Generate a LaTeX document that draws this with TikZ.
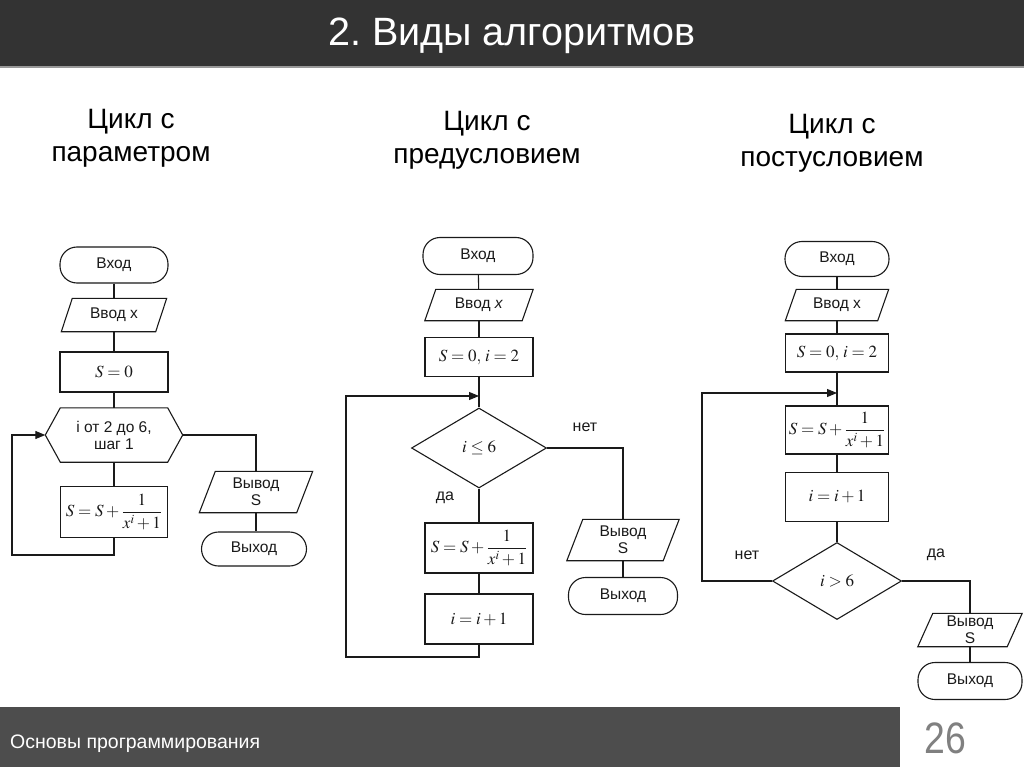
\documentclass[tikz,border=0pt]{standalone}
\usepackage{mathptmx}
\usepackage[no-math]{fontspec}
\setmainfont{Liberation Sans}
\newfontfamily\narrowfont[FakeStretch=0.85]{Liberation Sans}
\usetikzlibrary{shapes.geometric,arrows.meta}
\frenchspacing
\definecolor{hdr}{HTML}{333333}
\definecolor{ftr}{HTML}{4D4D4D}
\definecolor{ln}{HTML}{1A1A1A}
\definecolor{pg}{HTML}{808080}
\newcommand\iobox[2]{\draw[conn] ([xshift=#2]#1.north west) -- (#1.north east) -- ([xshift=-#2]#1.south east) -- (#1.south west) -- cycle;}
\tikzset{
  conn/.style={draw=ln, line width=1.1pt},
  arr/.style={conn, -{Triangle[length=10pt,width=8pt]}},
  txt/.style={inner sep=0pt, align=center, text=ln, font=\fontsize{15.5}{17}\selectfont},
  term/.style={txt, draw=ln, line width=1.1pt, rectangle, rounded corners=17pt},
  proc/.style={txt, draw=ln, line width=1.1pt, rectangle, font=\fontsize{17}{20}\selectfont},
  io/.style={txt},
  dec/.style={txt, draw=ln, line width=1.1pt, diamond, font=\fontsize{17}{20}\selectfont},
  head/.style={inner sep=0pt, align=center, text=black, font=\fontsize{28}{33}\selectfont},
  lbl/.style={inner sep=0pt, text=ln, font=\fontsize{16}{18}\selectfont},
}
\begin{document}
\begin{tikzpicture}[x=1pt,y=-1pt]
\useasboundingbox (0,0) rectangle (1024,767);
\fill[white] (0,0) rectangle (1024,767);
% header / footer
\fill[hdr] (0,0) rectangle (1024,67);
\draw[gray!80, line width=1.2pt] (0,67) -- (1024,67);
\node[inner sep=0pt, anchor=base, text=white, font=\fontsize{39.5}{42}\selectfont] (title) at (512,46) {2.~Виды алгоритмов};
\fill[ftr] (0,707) rectangle (900,767);
\node[inner sep=0pt, anchor=base west, text=white, font=\fontsize{19.5}{22}\selectfont] (foot) at (10,748) {Основы программирования};
\node[inner sep=0pt, text=pg, font=\narrowfont\fontsize{44}{46}\selectfont] (page) at (945,738) {26};
% headings
\node[head] (h1) at (131,138) {Цикл с\\параметром};
\node[head] (h2) at (487,140) {Цикл с\\предусловием};
\node[head] (h3) at (832,143) {Цикл с\\постусловием};

% ---------- left: loop with parameter
\node[term, minimum width=108, minimum height=36] (l1) at (114,265) {Вход};
\node[io, minimum width=105, minimum height=33] (l2) at (114,315) {Ввод x};
\iobox{l2}{11}
\node[proc, minimum width=108, minimum height=40] (l3) at (114,372) {$S=0$};
\node[txt, minimum width=137, minimum height=54] (l4) at (114,435) {i от 2 до 6,\\шаг 1};
\draw[conn] (l4.west) -- ([xshift=15]l4.north west) -- ([xshift=-15]l4.north east) -- (l4.east) -- ([xshift=-15]l4.south east) -- ([xshift=15]l4.south west) -- cycle;
\node[proc, minimum width=107, minimum height=51] (l5) at (114,512) {$\displaystyle S=S+\frac{1}{x^i+1}$};
\node[io, minimum width=113, minimum height=41] (l6) at (256,492) {Вывод\\S};
\iobox{l6}{16}
\node[term, minimum width=105, minimum height=34] (l7) at (254,549) {Выход};
\coordinate (lc1) at (114,555);
\coordinate (lc2) at (12,555);
\coordinate (lc3) at (12,435);
\coordinate (lc4) at (256,435);
\draw[conn] (l1) -- (l2);
\draw[conn] (l2) -- (l3);
\draw[conn] (l3) -- (l4);
\draw[conn] (l4) -- (l5);
\draw[arr] (l5.south) -- (lc1) -- (lc2) -- (lc3) -- (l4.west);
\draw[conn] (l4.east) -- (lc4) -- (l6.north);
\draw[conn] (l6.south) -- (l6.south |- l7.north);

% ---------- middle: pre-condition loop
\node[term, minimum width=110, minimum height=37] (m1) at (478,256) {Вход};
\node[io, minimum width=108, minimum height=31] (m2) at (479,305) {Ввод \textit{x}};
\iobox{m2}{11}
\node[proc, minimum width=108, minimum height=39] (m3) at (479,357) {$S=0,\,i=2$};
\coordinate (mj) at (479,396);
\node[dec, minimum width=135, minimum height=80] (m4) at (479,448) {$i\le 6$};
\node[proc, minimum width=108, minimum height=50] (m5) at (479,548) {$\displaystyle S=S+\frac{1}{x^i+1}$};
\node[proc, minimum width=108, minimum height=50] (m6) at (479,619) {$i=i+1$};
\node[io, minimum width=112, minimum height=41] (m7) at (623,540) {Вывод\\S};
\iobox{m7}{16}
\node[term, minimum width=109, minimum height=37] (m8) at (623,596) {Выход};
\node[lbl] (mno) at (585,427) {нет};
\node[lbl] (myes) at (445,498) {да};
\coordinate (mc1) at (479,657);
\coordinate (mc2) at (346,657);
\coordinate (mc3) at (346,396);
\coordinate (mc4) at (623,448);
\draw[conn] (m1) -- (m2);
\draw[conn] (m2) -- (m3);
\draw[conn] (m3.south) -- (m4.north);
\draw[conn] (m4.south) -- (m5.north);
\draw[conn] (m5) -- (m6);
\draw[arr] (m6.south) -- (mc1) -- (mc2) -- (mc3) -- (mj);
\draw[conn] (m4.east) -- (mc4) -- (m7.north);
\draw[conn] (m7) -- (m8);

% ---------- right: post-condition loop
\node[term, minimum width=104, minimum height=35] (r1) at (837,259) {Вход};
\node[io, minimum width=103, minimum height=31] (r2) at (837,305) {Ввод x};
\iobox{r2}{11}
\node[proc, minimum width=103, minimum height=38] (r3) at (837,353) {$S=0,\,i=2$};
\coordinate (rj) at (837,393);
\node[proc, minimum width=103, minimum height=48] (r4) at (837,430) {$\displaystyle S=S+\frac{1}{x^i+1}$};
\node[proc, minimum width=103, minimum height=49] (r5) at (837,497) {$i=i+1$};
\node[dec, minimum width=129, minimum height=77] (r6) at (837,581) {$i>6$};
\node[io, minimum width=104, minimum height=33] (r7) at (970,630) {Вывод\\S};
\iobox{r7}{15}
\node[term, minimum width=104, minimum height=37] (r8) at (970,681) {Выход};
\node[lbl] (rno) at (747,555) {нет};
\node[lbl] (ryes) at (936,555) {да};
\coordinate (rc1) at (702,581);
\coordinate (rc2) at (702,393);
\coordinate (rc3) at (970,581);
\draw[conn] (r1) -- (r2);
\draw[conn] (r2) -- (r3);
\draw[conn] (r3.south) -- (r4.north);
\draw[conn] (r4) -- (r5);
\draw[conn] (r5.south) -- (r6.north);
\draw[arr] (r6.west) -- (rc1) -- (rc2) -- (rj);
\draw[conn] (r6.east) -- (rc3) -- (r7.north);
\draw[conn] (r7) -- (r8);
\end{tikzpicture}
\end{document}
